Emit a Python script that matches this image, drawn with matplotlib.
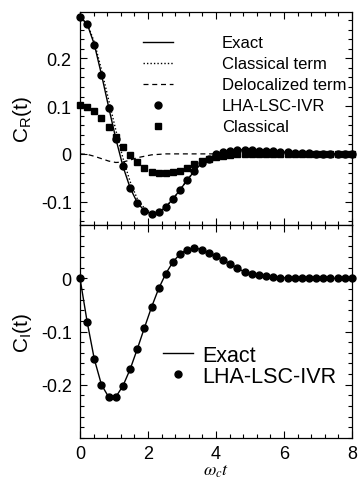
import matplotlib
matplotlib.use("Agg")
import matplotlib.pyplot as plt
from matplotlib.ticker import MultipleLocator, FuncFormatter
import numpy as np

plt.rcParams['font.family'] = ['Liberation Sans', 'DejaVu Sans']
plt.rcParams['mathtext.fontset'] = 'stix'
plt.rcParams['axes.unicode_minus'] = False

# time grid (omega_c t), 39 samples from 0 to 8
t = np.linspace(0, 8, 39)

# real part C_R(t)
exact_r = [0.286, 0.272, 0.229, 0.166, 0.098, 0.032, -0.026, -0.071, -0.102, -0.119,
           -0.126, -0.122, -0.111, -0.094, -0.075, -0.054, -0.036, -0.019, -0.009, -0.001,
           0.004, 0.007, 0.008, 0.009, 0.008, 0.007, 0.006, 0.005, 0.004, 0.003,
           0.002, 0.001, 0.001, 0.0, 0.0, 0.0, 0.0, 0.0, 0.0]
deloc_r = [0.0, -0.001, -0.005, -0.010, -0.015, -0.018, -0.017, -0.013, -0.008, -0.005,
           -0.002, -0.001, 0.0, 0.0, 0.0, 0.0, 0.0, 0.0, 0.0, 0.0,
           0.0, 0.0, 0.0, 0.0, 0.0, 0.0, 0.0, 0.0, 0.0, 0.0,
           0.0, 0.0, 0.0, 0.0, 0.0, 0.0, 0.0, 0.0, 0.0]
classterm_r = [0.286, 0.273, 0.234, 0.176, 0.113, 0.050, -0.009, -0.058, -0.094, -0.114,
               -0.124, -0.121, -0.111, -0.094, -0.075, -0.054, -0.036, -0.019, -0.009, -0.001,
               0.004, 0.007, 0.008, 0.009, 0.008, 0.007, 0.006, 0.005, 0.004, 0.003,
               0.002, 0.001, 0.001, 0.0, 0.0, 0.0, 0.0, 0.0, 0.0]
lha_r = [0.286, 0.272, 0.228, 0.165, 0.097, 0.031, -0.026, -0.071, -0.102, -0.119,
         -0.126, -0.122, -0.111, -0.094, -0.075, -0.054, -0.036, -0.019, -0.010, -0.001,
         0.004, 0.007, 0.008, 0.009, 0.008, 0.007, 0.006, 0.005, 0.004, 0.003,
         0.002, 0.001, 0.001, 0.0, 0.0, 0.0, 0.0, 0.0, 0.0]
classical_r = [0.103, 0.099, 0.089, 0.075, 0.056, 0.035, 0.015, -0.002, -0.017, -0.030,
               -0.037, -0.040, -0.039, -0.037, -0.035, -0.029, -0.022, -0.015, -0.010, -0.007,
               -0.004, -0.002, -0.001, 0.0, 0.0, 0.0, 0.0, 0.0, 0.0, 0.0,
               0.0, 0.0, 0.0, 0.0, 0.0, 0.0, 0.0, 0.0, 0.0]

# imaginary part C_I(t)
exact_i = [0.0, -0.082, -0.152, -0.200, -0.223, -0.223, -0.202, -0.171, -0.133, -0.093,
           -0.054, -0.019, 0.009, 0.031, 0.046, 0.054, 0.057, 0.054, 0.047, 0.041,
           0.034, 0.027, 0.019, 0.012, 0.009, 0.006, 0.004, 0.002, 0.001, 0.001,
           0.0, 0.0, 0.0, 0.0, 0.0, 0.0, 0.0, 0.0, 0.0]
lha_i = exact_i

fig = plt.figure(figsize=(3.58, 4.81), dpi=100)
ax1 = fig.add_axes([0.2235, 0.530, 0.7595, 0.443])
ax2 = fig.add_axes([0.2235, 0.0873, 0.7595, 0.4427])

fs = 13
fmt = FuncFormatter(lambda v, p: '%g' % round(v, 3))

ax1.plot(t, exact_r, color='black', lw=1.0, label='Exact')
ax1.plot(t, classterm_r, color='black', lw=1.0, ls=(0, (1, 1.5)), label='Classical term')
ax1.plot(t, deloc_r, color='black', lw=0.9, ls=(0, (4, 3)), label='Delocalized term')
ax1.plot(t, lha_r, 'o', color='black', ms=5, label='LHA-LSC-IVR', clip_on=False)
ax1.plot(t, classical_r, 's', color='black', ms=4.3, label='Classical', clip_on=False)
ax1.set_xlim(0, 8)
ax1.set_ylim(-0.149, 0.297)
ax1.set_yticks([-0.1, 0, 0.1, 0.2])
ax1.yaxis.set_minor_locator(MultipleLocator(0.02))
ax1.xaxis.set_major_locator(MultipleLocator(2))
ax1.xaxis.set_minor_locator(MultipleLocator(0.4))
ax1.yaxis.set_major_formatter(fmt)
ax1.tick_params(labelbottom=False)
ax1.set_ylabel(r'$\mathregular{C_R(t)}$', fontsize=15, labelpad=5)
ax1.legend(loc='upper left', bbox_to_anchor=(0.231, 0.89), frameon=False,
           fontsize=12, handlelength=1.8, handletextpad=2.94, labelspacing=0.36,
           borderpad=0, borderaxespad=0)

ax2.plot(t, exact_i, color='black', lw=1.0, label='Exact')
ax2.plot(t, lha_i, 'o', color='black', ms=5, label='LHA-LSC-IVR', clip_on=False)
ax2.set_xlim(0, 8)
ax2.set_ylim(-0.3, 0.1)
ax2.set_yticks([-0.2, -0.1, 0])
ax2.yaxis.set_minor_locator(MultipleLocator(0.02))
ax2.xaxis.set_major_locator(MultipleLocator(2))
ax2.xaxis.set_minor_locator(MultipleLocator(0.4))
ax2.yaxis.set_major_formatter(fmt)
ax2.xaxis.set_major_formatter(fmt)
ax2.set_ylabel(r'$\mathregular{C_I(t)}$', fontsize=15, labelpad=5)
ax2.set_xlabel(r'$\omega_c t$', fontsize=13, labelpad=0)
ax2.legend(loc='upper left', bbox_to_anchor=(0.304, 0.438), frameon=False,
           fontsize=15.5, handlelength=1.42, handletextpad=0.44, labelspacing=0.0,
           borderpad=0, borderaxespad=0)

for ax in (ax1, ax2):
    ax.tick_params(which='both', direction='in', top=True, right=True, labelsize=fs)
    ax.tick_params(which='major', length=5, width=0.8)
    ax.tick_params(which='minor', length=3, width=0.8)
    ax.tick_params(axis='y', pad=6)
    ax.tick_params(axis='x', pad=5)
    for s in ax.spines.values():
        s.set_linewidth(0.9)

fig.savefig('out.png', dpi=100)
